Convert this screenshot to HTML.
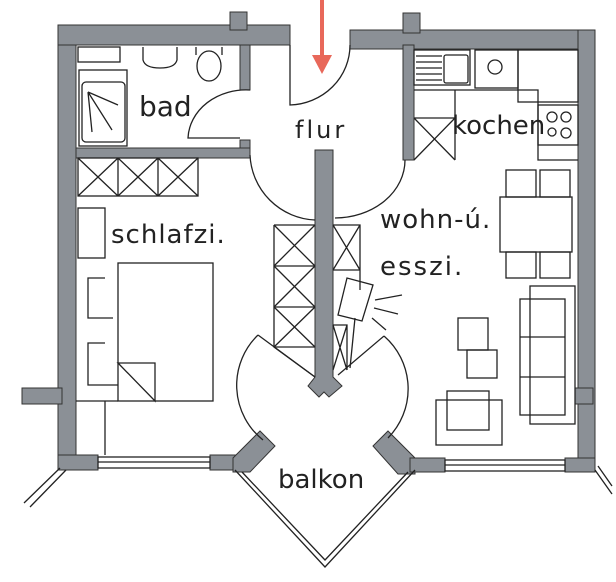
<!DOCTYPE html>
<html><head><meta charset="utf-8"><style>
html,body{margin:0;padding:0;background:#fff;}
svg{display:block;}
text{font-family:"DejaVu Sans","Liberation Sans",sans-serif;fill:#222;font-weight:normal;}
</style></head><body>
<svg width="616" height="582" viewBox="0 0 616 582" xmlns="http://www.w3.org/2000/svg">
<g fill="#8b9096" stroke="#333" stroke-width="1">
<rect x="58" y="25" width="18" height="445"/>
<rect x="58" y="25" width="232" height="20"/>
<rect x="230" y="12" width="17" height="18"/>
<rect x="350" y="30" width="245" height="19"/>
<rect x="403" y="13" width="17" height="20"/>
<rect x="578" y="30" width="17" height="440"/>
<rect x="22" y="388" width="40" height="16"/>
<rect x="575" y="388" width="18" height="16"/>
<rect x="240" y="45" width="10" height="45"/>
<rect x="240" y="140" width="10" height="18"/>
<rect x="76" y="148" width="174" height="10"/>
<rect x="403" y="45" width="11" height="115"/>
<path d="M315 150 L333 150 L333 377 L342 386 L329 397 L324 392 L319 397 L308 386 L315 377 Z"/>
<rect x="58" y="455" width="40" height="15"/>
<rect x="210" y="455" width="38" height="15"/>
<path d="M233 458 L260 431 L275 446 L250 472 L233 472 Z"/>
<path d="M388 431 L415 458 L415 474 L398 474 L373 446 Z"/>
<rect x="410" y="458" width="35" height="14"/>
<rect x="565" y="458" width="30" height="14"/>
</g>
<g fill="none" stroke="#222" stroke-width="1.3">
<rect x="98" y="457" width="112" height="11"/><line x1="98" y1="462" x2="210" y2="462"/>
<rect x="445" y="460" width="120" height="11"/><line x1="445" y1="465" x2="565" y2="465"/>
<path d="M60 468 L24 503 M66 470 L30 507"/>
<path d="M595 470 L612 494 M598 466 L612 486"/>
<path d="M235 470 L325 567 L415 470 M242 472 L325 560 L408 472"/>
<rect x="78" y="47" width="42" height="15"/>
<rect x="79" y="70" width="48" height="76"/>
<rect x="82" y="82" width="43" height="60" rx="4"/>
<path d="M88 92 L118 105 M88 92 L112 130 M88 92 L92 132"/>
<path d="M143 47 L143 60 Q145 68 160 68 Q175 68 177 60 L177 47"/>
<ellipse cx="209" cy="66" rx="12" ry="15"/>
<path d="M196 47 L196 55 M222 47 L222 55"/>
<path d="M250 90 A58 50 0 0 0 188 138 L240 138"/>
<path d="M350 45 A62 60 0 0 1 290 105 L290 45"/>
<path d="M250 155 A68 68 0 0 0 315 220"/>
<path d="M405 160 A70 58 0 0 1 335 218"/>
<rect x="78" y="158" width="120" height="38"/>
<path d="M118 158 V196 M158 158 V196 M78 158 L118 196 M118 158 L78 196 M118 158 L158 196 M158 158 L118 196 M158 158 L198 196 M198 158 L158 196"/>
<rect x="78" y="208" width="27" height="50"/>
<rect x="118" y="263" width="95" height="138"/>
<path d="M118 363 L155 363 L155 401 Z"/>
<path d="M105 278 L88 278 L88 318 L113 318 M105 343 L88 343 L88 385 L118 385"/>
<path d="M76 401 H118 M105 401 V455"/>
<path d="M274 225 H315 M274 225 V347 L315 377 M274 266 H315 M274 307 H315 M274 347 H315"/>
<path d="M274 225 L315 266 M315 225 L274 266 M274 266 L315 307 M315 266 L274 307 M274 307 L315 347 M315 307 L274 347"/>
<path d="M333 225 H360 V270 H333 M333 225 L360 270 M360 225 L333 270 M360 270 V290"/>
<path d="M333 325 H347 V370 M333 325 L347 370 M347 325 L333 370"/>
<path d="M338 315 L347 278 L373 285 L362 321 Z" />
<path d="M355 318 L350 368"/>
<path d="M375 300 L402 295 M374 308 L398 314 M372 318 L386 330"/>
<path d="M258 335 L315 377 M258 335 A70 70 0 0 0 263 440"/>
<path d="M384 336 L338 375 M384 336 A70 70 0 0 1 388 438"/>
<rect x="414" y="50" width="56" height="35"/>
<rect x="444" y="55" width="24" height="28" rx="2"/>
<path d="M416 56 H442 M416 62 H442 M416 68 H442 M416 74 H442 M416 80 H442"/>
<rect x="475" y="50" width="43" height="38"/>
<circle cx="495" cy="67" r="7"/>
<rect x="518" y="50" width="60" height="52"/>
<path d="M414 90 H455 V160 M455 90 H538 V160 H578"/>
<rect x="538" y="105" width="40" height="40"/>
<path d="M414 118 H455 M414 118 L455 160 M455 118 L414 160"/>
<circle cx="552" cy="117" r="5"/><circle cx="566" cy="117" r="5"/>
<circle cx="552" cy="132" r="4"/><circle cx="566" cy="133" r="5"/>
<rect x="500" y="197" width="72" height="55"/>
<rect x="506" y="170" width="30" height="27"/><rect x="540" y="170" width="30" height="27"/>
<rect x="506" y="252" width="30" height="26"/><rect x="540" y="252" width="30" height="26"/>
<rect x="530" y="286" width="45" height="138"/>
<rect x="520" y="299" width="45" height="116"/>
<path d="M520 337 H565 M520 377 H565"/>
<rect x="458" y="318" width="30" height="32"/>
<rect x="467" y="350" width="30" height="28"/>
<rect x="436" y="400" width="66" height="45"/>
<rect x="447" y="391" width="42" height="39"/>
</g>
<line x1="322" y1="0" x2="322" y2="58" stroke="#e8685a" stroke-width="4"/>
<path d="M312 55 L332 55 L322 74 Z" fill="#e8685a"/>
<text x="139" y="116" font-size="28">bad</text>
<text x="295" y="138" font-size="24" letter-spacing="3">flur</text>
<text x="452" y="134" font-size="26">kochen</text>
<text x="111" y="243" font-size="26" letter-spacing="1">schlafzi.</text>
<text x="380" y="228" font-size="26" letter-spacing="1">wohn-ú.</text>
<text x="380" y="275" font-size="26" letter-spacing="2">esszi.</text>
<text x="278" y="488" font-size="26">balkon</text>
</svg>
</body></html>
